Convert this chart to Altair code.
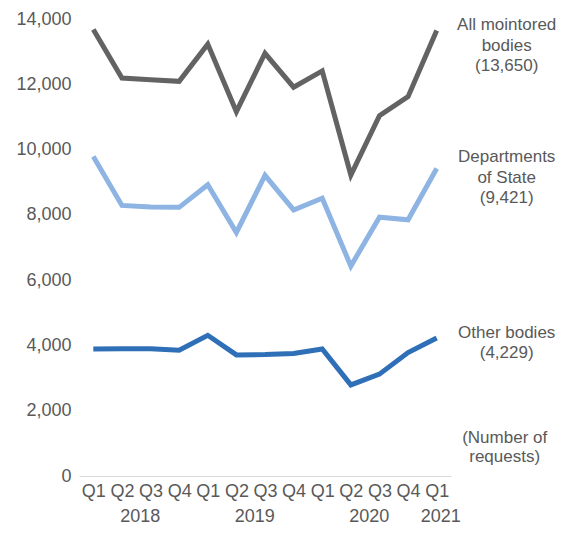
import altair as alt
import pandas as pd

quarters = ["Q1", "Q2", "Q3", "Q4", "Q1", "Q2", "Q3", "Q4", "Q1", "Q2", "Q3", "Q4", "Q1"]
years = [2018, 2018, 2018, 2018, 2019, 2019, 2019, 2019, 2020, 2020, 2020, 2020, 2021]

all_bodies = [13680, 12190, 12140, 12090, 13230, 11160, 12950, 11910, 12410, 9220, 11040, 11620, 13650]
departments = [9790, 8290, 8240, 8230, 8920, 7460, 9210, 8150, 8510, 6430, 7930, 7850, 9421]
other_bodies = [3890, 3900, 3900, 3850, 4310, 3710, 3720, 3750, 3890, 2790, 3120, 3780, 4229]

series_names = ["All mointored bodies", "Departments of State", "Other bodies"]
series_values = [all_bodies, departments, other_bodies]
series_colors = ["#636363", "#8db4e2", "#2f6fb7"]
series_labels = ["All mointored\nbodies\n(13,650)", "Departments\nof State\n(9,421)", "Other bodies\n(4,229)"]
label_dy = [-5, -11, -5]
unit_label = "(Number of\nrequests)"

FONT = "Liberation Sans"
FS = 18
FS_LAB = 17
GREY = "#595959"
W, H = 372, 457

rows = []
for name, vals in zip(series_names, series_values):
    for i, v in enumerate(vals):
        rows.append({"idx": i, "quarter": quarters[i], "year": years[i], "series": name, "value": v})
df = pd.DataFrame(rows)

year_rows = []
for y in sorted(set(years)):
    idxs = [i for i, yy in enumerate(years) if yy == y]
    year_rows.append({"year": str(y), "pos": sum(idxs) / len(idxs)})
year_df = pd.DataFrame(year_rows)

label_expr = "[" + ",".join("'" + q + "'" for q in quarters) + "][datum.value]"

x_scale = alt.Scale(domain=[-0.5, len(quarters) - 0.5], nice=False, zero=False)
y_scale = alt.Scale(domain=[0, 14000], nice=False)

x_axis = alt.Axis(values=list(range(len(quarters))), labelExpr=label_expr, title=None,
                  grid=False, ticks=False, domain=True, domainColor="#d9d9d9",
                  labelPadding=6, labelFont=FONT, labelFontSize=FS, labelColor=GREY,
                  labelFlush=False, labelOverlap=False, labelBound=False)
y_axis = alt.Axis(values=list(range(0, 14001, 2000)), format=",d", title=None,
                  grid=False, ticks=False, domain=False, labelPadding=8,
                  labelFont=FONT, labelFontSize=FS, labelColor=GREY, labelOverlap=False)


def xenc(field):
    return alt.X(field, scale=x_scale, axis=x_axis)


def yenc(field):
    return alt.Y(field, scale=y_scale, axis=y_axis)


lines = alt.Chart(df).mark_line(strokeWidth=5, strokeJoin="miter").encode(
    x=xenc("idx:Q"),
    y=yenc("value:Q"),
    color=alt.Color("series:N", scale=alt.Scale(domain=series_names, range=series_colors), legend=None),
    detail="series:N",
)

layers = [lines]
for name, vals, lab, dy in zip(series_names, series_values, series_labels, label_dy):
    ldf = pd.DataFrame([{"idx": len(vals) - 1, "value": vals[-1], "label": lab}])
    layers.append(
        alt.Chart(ldf).mark_text(align="center", baseline="middle", dx=70, dy=dy, lineBreak="\n",
                                 lineHeight=20.5, font=FONT, fontSize=FS_LAB, color=GREY).encode(
            x=xenc("idx:Q"), y=yenc("value:Q"), text="label:N")
    )

unit_df = pd.DataFrame([{"idx": len(quarters) - 1, "label": unit_label}])
layers.append(
    alt.Chart(unit_df).mark_text(align="center", baseline="middle", dx=68, lineBreak="\n",
                                 lineHeight=18.5, font=FONT, fontSize=FS_LAB, color=GREY).encode(
        x=xenc("idx:Q"), y=alt.value(419), text="label:N")
)

layers.append(
    alt.Chart(year_df).mark_text(align="center", baseline="middle", dx=4, font=FONT, fontSize=FS, color=GREY).encode(
        x=xenc("pos:Q"), y=alt.value(H + 41), text="year:N")
)

chart = alt.layer(*layers).properties(
    width=W, height=H,
    autosize=alt.AutoSizeParams(type="none"),
    padding={"left": 71, "top": 11, "right": 106, "bottom": 52},
).configure_view(stroke=None)

chart.save("out.html", embed_options={"renderer": "svg", "actions": False})
